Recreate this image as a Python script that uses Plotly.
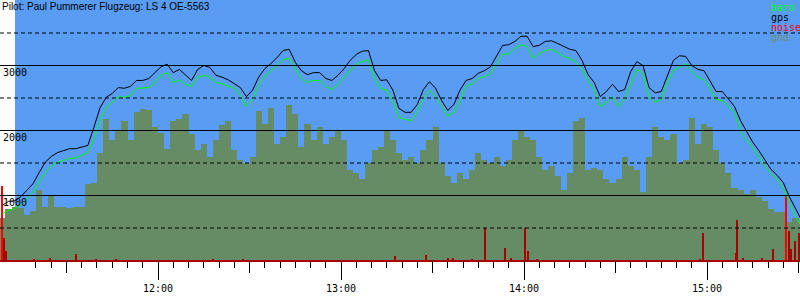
import pandas as pd
import plotly.graph_objects as go

# ---------------- data ----------------
DAY = "2009-07-12"
SAMPLE_START = "11:09"      # first sample of the flight record
SAMPLE_STEP_MIN = 2         # sample spacing in minutes

gps = [850, 910, 920, 980, 1080, 1180, 1350, 1510, 1600, 1660,
       1690, 1720, 1720, 1740, 1770, 2050, 2350, 2510, 2570, 2660,
       2650, 2680, 2770, 2770, 2800, 2890, 2980, 3020, 2890, 2940,
       2860, 2770, 2940, 3000, 2970, 2850, 2820, 2780, 2720, 2660,
       2520, 2620, 2820, 2950, 3030, 3120, 3230, 3250, 3050, 2920,
       2860, 2890, 2890, 2800, 2770, 2850, 2950, 3080, 3170, 3220,
       3230, 2920, 2770, 2780, 2620, 2340, 2280, 2280, 2400, 2630,
       2750, 2650, 2460, 2310, 2400, 2620, 2770, 2800, 2880, 2920,
       2980, 3150, 3310, 3320, 3370, 3450, 3450, 3290, 3310, 3370,
       3380, 3340, 3290, 3250, 3230, 3080, 2860, 2740, 2520, 2600,
       2710, 2600, 2630, 2910, 3060, 3000, 2660, 2580, 2600, 2850,
       3080, 3150, 3140, 3000, 2940, 2920, 2750, 2600, 2600, 2490,
       2370, 2150, 1980, 1820, 1690, 1550, 1400, 1310, 1200, 980,
       800, 620]

baro = [720, 770, 800, 860, 950, 1050, 1200, 1350, 1450, 1510,
        1540, 1570, 1580, 1620, 1660, 1880, 2150, 2350, 2430, 2520,
        2510, 2540, 2650, 2650, 2660, 2740, 2850, 2890, 2740, 2780,
        2710, 2680, 2820, 2850, 2820, 2740, 2720, 2680, 2650, 2540,
        2370, 2480, 2690, 2830, 2910, 3000, 3090, 3110, 2950, 2800,
        2740, 2770, 2770, 2680, 2630, 2710, 2820, 2920, 3020, 3060,
        3090, 2800, 2650, 2620, 2460, 2200, 2170, 2150, 2280, 2490,
        2620, 2520, 2370, 2220, 2280, 2460, 2680, 2720, 2800, 2830,
        2880, 3020, 3170, 3180, 3260, 3320, 3290, 3110, 3180, 3230,
        3250, 3200, 3140, 3110, 3060, 2950, 2770, 2620, 2370, 2430,
        2520, 2370, 2490, 2710, 2940, 2880, 2520, 2430, 2480, 2740,
        2920, 2970, 3030, 2910, 2820, 2780, 2650, 2480, 2460, 2380,
        2280, 2000, 1850, 1740, 1600, 1450, 1340, 1250, 1110, 890,
        680, 520]

gnd = [650, 800, 820, 810, 700, 760, 1080, 820, 1000, 820,
       830, 810, 820, 830, 1170, 1190, 1650, 2180, 1850, 2000,
       2150, 1850, 2280, 2330, 2310, 2050, 1960, 1720, 2150, 2170,
       2250, 1950, 1700, 1800, 1600, 1850, 2080, 2150, 1700, 1550,
       1500, 1600, 2300, 2100, 2350, 1800, 1900, 2400, 2250, 1750,
       2100, 1850, 2050, 1800, 1900, 2000, 1850, 1400, 1350, 1250,
       1500, 1700, 1750, 2000, 1850, 1650, 1550, 1600, 1500, 1700,
       1850, 2050, 1500, 1300, 1200, 1350, 1250, 1400, 1650, 1550,
       1500, 1600, 1450, 1550, 1850, 2000, 1900, 1850, 1600, 1400,
       1450, 1300, 1080, 1350, 2150, 2200, 1400, 1430, 1400, 1250,
       1200, 1250, 1600, 1450, 1400, 1050, 1600, 2050, 1900, 1850,
       1950, 1500, 1550, 2200, 1800, 2100, 2050, 1700, 1500, 1350,
       1120, 1080, 1030, 1080, 970, 920, 800, 740, 740, 590,
       650, 600]

noise_times = ["11:09:05", "11:09:40", "11:10:10", "11:19:21", "11:24:35",
               "11:33:07", "11:39:40", "11:46:14", "12:18:02", "12:27:52",
               "13:17:42", "13:27:52", "13:35:05", "13:36:43", "13:42:57",
               "13:47:23", "13:53:46", "13:55:44", "14:00:30", "14:01:19",
               "14:04:16", "14:57:42", "14:58:41", "15:09:30", "15:10:00",
               "15:11:48", "15:18:02", "15:21:38", "15:26:04", "15:26:53",
               "15:27:42", "15:28:51", "15:30:10"]
noise = [1150, 350, 150, 30, 45,
         100, 30, 25, 20, 20,
         70, 80, 45, 45, 20,
         500, 200, 45, 500, 140,
         20, 20, 420, 120, 620,
         45, 45, 180, 1000, 450,
         170, 300, 430]

y_major = [1000, 2000, 3000]
y_minor = [500, 1500, 2500, 3500]
y_labels = ["1000", "2000", "3000"]

title_text = "Pilot: Paul Pummerer Flugzeug: LS 4 OE-5563"
legend_names = ["baro", "gps", "noise", "gnd"]

X_START = f"{DAY} 11:08:12"
X_END = f"{DAY} 15:30:29"
Y_RANGE = [7.7, 4007.7]   # keeps the solid grid lines on whole pixels

# ---------------- styling ----------------
C_BARO = "#00ff00"
C_GPS = "#000000"
C_NOISE = "#ff0000"
C_NOISE_DARK = "#a80000"
C_GND = "#668c66"
C_GND_TEXT = "#6f8f6f"
C_SKY = "#589cf4"
MONO = "DejaVu Sans Mono"

times = pd.date_range(f"{DAY} {SAMPLE_START}", periods=len(gps),
                      freq=f"{SAMPLE_STEP_MIN}min")
ntimes = pd.to_datetime([f"{DAY} {t}" for t in noise_times])
noise_colors = [C_NOISE if v > 800 else C_NOISE_DARK for v in noise]

fig = go.Figure()
fig.add_trace(go.Bar(x=times, y=gnd, name="gnd", marker_color=C_GND,
                     marker_line_width=0, width=SAMPLE_STEP_MIN * 60000))
fig.add_trace(go.Bar(x=ntimes, y=noise, name="noise", marker_color=noise_colors,
                     marker_line_width=0, width=30000))
fig.add_trace(go.Scatter(x=times, y=baro, name="baro", mode="lines",
                         line=dict(color=C_BARO, width=1)))
fig.add_trace(go.Scatter(x=times, y=gps, name="gps", mode="lines",
                         line=dict(color=C_GPS, width=1)))
# carrier for the half-hour tick axis
fig.add_trace(go.Scatter(x=[], y=[], xaxis="x2", showlegend=False))

shapes = [dict(type="rect", xref="paper", yref="paper", x0=15 / 800, x1=1,
               y0=0, y1=1, fillcolor=C_SKY, line_width=0, layer="below")]
for v in y_major:
    shapes.append(dict(type="line", xref="paper", yref="y", x0=0, x1=1, y0=v, y1=v,
                       line=dict(color="black", width=1), layer="above"))
for v in y_minor:
    shapes.append(dict(type="line", xref="paper", yref="y", x0=0, x1=1, y0=v, y1=v,
                       line=dict(color="black", width=1, dash="4px,3px"), layer="above"))

PLOT_H = 260
annotations = [dict(text=title_text, xref="paper", yref="paper", x=0, y=1 - 6.5 / PLOT_H,
                    xanchor="left", yanchor="middle", showarrow=False,
                    font=dict(family="Liberation Sans", size=10, color="black"))]
leg_colors = [C_BARO, C_GPS, C_NOISE, C_GND_TEXT]
for i, (name, col) in enumerate(zip(legend_names, leg_colors)):
    annotations.append(dict(text=name, xref="paper", yref="paper", x=769 / 800,
                            y=1 - (7.5 + 10 * i) / PLOT_H, xanchor="left",
                            yanchor="middle", showarrow=False,
                            font=dict(family=MONO, size=10, color=col)))

fig.update_layout(
    width=800, height=300,
    margin=dict(l=0, r=0, t=0, b=40, pad=0),
    paper_bgcolor="white", plot_bgcolor="white",
    showlegend=False, barmode="overlay", bargap=0,
    shapes=shapes, annotations=annotations,
    xaxis=dict(type="date", range=[X_START, X_END], dtick=3600000,
               tickformat="%H:%M", ticks="outside", ticklen=18, tickwidth=1,
               tickcolor="black", showgrid=False, zeroline=False,
               showline=True, linecolor=C_NOISE_DARK, linewidth=2,
               tickfont=dict(family=MONO, size=10, color="black"),
               minor=dict(dtick=300000, ticks="outside", ticklen=6,
                          tickcolor="black", tickwidth=1, showgrid=False)),
    xaxis2=dict(type="date", range=[X_START, X_END], overlaying="x", anchor="y",
                side="bottom", dtick=1800000, ticks="outside", ticklen=12,
                tickcolor="black", tickwidth=1, showticklabels=False,
                showgrid=False, zeroline=False, showline=False),
    yaxis=dict(range=Y_RANGE, tickvals=y_major, ticktext=y_labels,
               ticks="", ticklabelposition="inside bottom", showgrid=False,
               zeroline=False, showline=False,
               tickfont=dict(family=MONO, size=10, color="black")),
)

fig.write_html("out.html")
